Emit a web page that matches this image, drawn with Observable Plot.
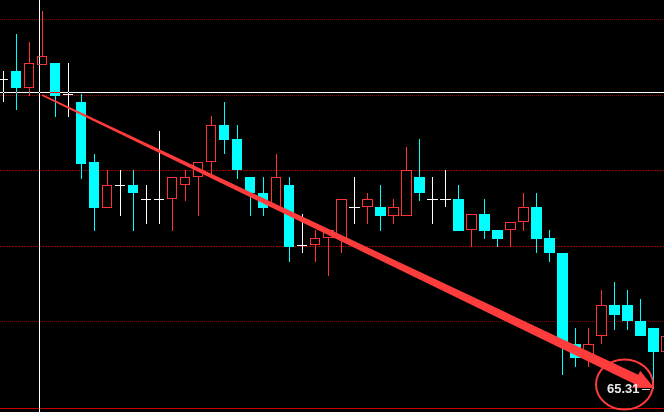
<!DOCTYPE html>
<html><head><meta charset="utf-8">
<script src="https://cdn.jsdelivr.net/npm/d3@7"></script>
<script src="https://cdn.jsdelivr.net/npm/@observablehq/plot@0.6"></script>
<style>html,body{margin:0;padding:0;background:#000;overflow:hidden}</style>
</head><body><div id="chart"></div>
<script>
// Candle values, one per session, left to right
const openP  = [73.52,73.71,73.28,73.89,73.92,73.10,72.91,71.30,70.08,70.71,70.71,70.32,70.32,70.32,70.71,70.90,71.30,72.30,71.91,70.90,70.50,70.11,70.71,69.10,69.10,69.31,69.31,70.11,70.11,70.11,69.89,69.89,70.90,70.32,70.32,70.32,69.50,69.92,69.50,69.50,69.71,70.11,69.31,68.91,66.50,66.11,66.69,67.51,67.51,67.11,66.90,66.29];
const highP  = [73.71,74.71,74.50,75.32,73.92,73.92,73.10,71.51,71.11,71.11,71.11,70.71,72.12,70.90,71.11,71.30,72.52,72.91,72.30,70.90,70.90,71.51,70.90,69.92,69.52,69.52,70.32,70.90,70.50,70.71,70.32,71.72,71.91,70.90,71.11,70.71,69.92,70.32,69.50,69.71,70.50,70.50,69.50,68.91,66.90,66.90,67.91,68.12,67.91,67.69,66.90,66.80];
const lowP   = [72.89,72.70,73.07,73.89,72.49,72.49,70.87,69.47,70.08,69.89,69.47,69.68,69.68,69.47,70.29,69.89,70.95,71.51,70.87,69.89,69.89,70.11,68.67,68.89,68.67,68.28,68.89,69.68,69.68,69.47,69.68,69.89,70.29,69.68,70.11,69.47,69.07,69.28,69.07,69.07,69.47,68.89,68.67,65.68,65.87,65.87,66.48,66.87,66.87,66.69,65.31,66.20];
const closeP = [73.52,73.28,73.92,74.11,73.07,73.10,71.27,70.08,70.71,70.71,70.48,70.32,70.32,70.90,70.90,71.30,72.30,71.88,71.09,70.48,70.08,70.90,69.07,69.10,69.31,69.52,70.32,70.11,70.32,69.89,70.11,71.11,70.48,70.32,70.32,69.47,69.92,69.47,69.28,69.71,70.11,69.28,68.89,66.48,66.11,66.50,67.51,67.27,67.09,66.69,66.29,66.69];

// Reference levels and annotations (prices)
const gridFaint = [75.098, 73.085, 67.098];
const gridStrong = [71.098, 69.085];
const baseLevel = [64.794];
const crosshair = [{i: 2.77, price: 73.165}];
const lowLabel = [{i: 50, price: 65.31, text: "65.31"}];
const trendFrom = {i: 2.96, price: 73.10};
const trendTo = {i: 50.05, price: 65.34};
const ring = {i: 47.77, price: 65.43};

const RED = "#ff3333", CYAN = "#00ffff", WHITE = "#ffffff", MARK = "#ff3c3c";

const candles = openP.map((o, k) => ({i: k, o, h: highP[k], l: lowP[k], c: closeP[k]}));
const ups = candles.filter(d => d.c > d.o);
const downs = candles.filter(d => d.c < d.o);
const dojis = candles.filter(d => d.c === d.o);
const HW = 0.423;

function trendArrow(index, scales) {
  const sx = scales.x(trendFrom.i) + 0.5, sy = scales.y(trendFrom.price) + 0.5;
  const tx = scales.x(trendTo.i) + 0.5, ty = scales.y(trendTo.price) + 0.5;
  const dx = tx - sx, dy = ty - sy, len = Math.hypot(dx, dy);
  const ux = dx / len, uy = dy / len, nx = -uy, ny = ux;
  const headLen = 20, headHalf = 9.5, w0 = 1.6, w1 = 10;
  const bx = tx - ux * headLen, by = ty - uy * headLen;
  const pts = [
    [sx + nx * w0 / 2, sy + ny * w0 / 2],
    [bx + nx * w1 / 2, by + ny * w1 / 2],
    [bx + nx * headHalf, by + ny * headHalf],
    [tx, ty],
    [bx - nx * headHalf, by - ny * headHalf],
    [bx - nx * w1 / 2, by - ny * w1 / 2],
    [sx - nx * w0 / 2, sy - ny * w0 / 2]
  ];
  return d3.create("svg:polygon")
    .attr("points", pts.map(p => p.join(",")).join(" "))
    .attr("fill", MARK).node();
}

function ringMark(index, scales) {
  return d3.create("svg:ellipse")
    .attr("cx", scales.x(ring.i) + 0.5).attr("cy", scales.y(ring.price) + 0.5)
    .attr("rx", 28.5).attr("ry", 25)
    .attr("fill", "none").attr("stroke", MARK).attr("stroke-width", 2).node();
}

const chart = Plot.plot({
  width: 664,
  height: 412,
  margin: 0,
  x: {domain: [-0.23077, 50.846], axis: null},
  y: {domain: [64.6878, 75.6018], axis: null},
  style: {background: "#000", overflow: "hidden"},
  marks: [
    Plot.ruleY(gridFaint, {stroke: "#8c0000", strokeDasharray: "1,1"}),
    Plot.ruleY(gridStrong, {stroke: "#a00000", strokeDasharray: "2,1"}),
    Plot.ruleY(baseLevel, {stroke: "#d40000"}),
    Plot.ruleX(ups, {x: "i", y1: "l", y2: "h", stroke: RED, shapeRendering: "crispEdges"}),
    Plot.ruleX(downs, {x: "i", y1: "l", y2: "h", stroke: CYAN, shapeRendering: "crispEdges"}),
    Plot.ruleX(dojis, {x: "i", y1: "l", y2: "h", stroke: WHITE, shapeRendering: "crispEdges"}),
    Plot.rect(ups, {x1: d => d.i - HW, x2: d => d.i + HW, y1: "o", y2: "c", fill: "#000", stroke: RED, strokeWidth: 1, inset: 0.5, shapeRendering: "crispEdges"}),
    Plot.rect(downs, {x1: d => d.i - HW, x2: d => d.i + HW, y1: "o", y2: "c", fill: CYAN, shapeRendering: "crispEdges"}),
    Plot.ruleY(dojis, {x1: d => d.i - HW, x2: d => d.i + HW, y: "o", stroke: WHITE, shapeRendering: "crispEdges"}),
    Plot.ruleX(crosshair, {x: "i", stroke: WHITE, mixBlendMode: "difference", shapeRendering: "crispEdges"}),
    Plot.ruleY(crosshair, {y: "price", stroke: WHITE, mixBlendMode: "difference", shapeRendering: "crispEdges"}),
    trendArrow,
    ringMark,
    Plot.ruleY(lowLabel, {y: "price", x1: d => d.i - 0.88, x2: d => d.i - 0.2, stroke: "#e0e0e0", shapeRendering: "crispEdges"}),
    Plot.text(lowLabel, {x: "i", y: "price", text: "text", textAnchor: "end", dx: -14, fill: "#e8e8e8", fontSize: 13, fontWeight: "bold", fontFamily: "Liberation Sans, Arial, sans-serif"})
  ]
});
document.getElementById("chart").appendChild(chart);
</script>
</body></html>
